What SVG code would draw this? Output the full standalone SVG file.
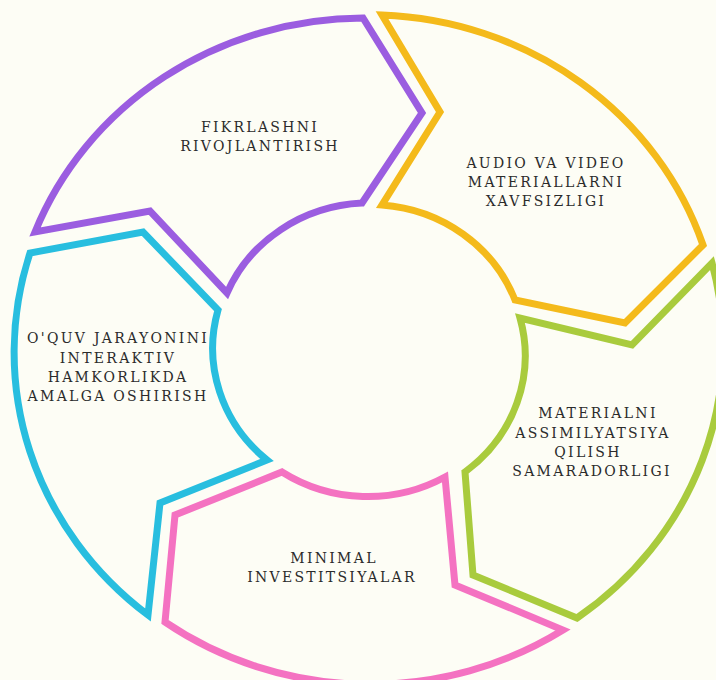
<svg xmlns="http://www.w3.org/2000/svg" width="716" height="680" viewBox="0 0 716 680">
  <style>
    .seg { fill: #fdfdf5; stroke-width: 7; stroke-linejoin: miter; stroke-miterlimit: 10; }
    .lbl { font-family: "DejaVu Serif", "Liberation Serif", serif; font-size: 14px; letter-spacing: 2.3px; fill: #2b2b2b; text-anchor: middle; }
  </style>
  <rect width="716" height="680" fill="#fdfdf5"/>
  <g id="connectors"/>
  <g id="node-fikrlash">
    <path class="seg" stroke="#9b5de0" d="M35,232 A353,335 0 0 1 363,18 L422,113 L362,203 A155,147 0 0 0 227,293 L150,211 Z"/>
    <text class="lbl" x="260" y="132">FIKRLASHNI</text>
    <text class="lbl" x="260" y="151">RIVOJLANTIRISH</text>
  </g>
  <g id="node-audio">
    <path class="seg" stroke="#f4ba1b" d="M382,15 A353,335 0 0 1 703,245 L625,323 L515,300 A155,147 0 0 0 382,205 L440,112 Z"/>
    <text class="lbl" x="546" y="168">AUDIO VA VIDEO</text>
    <text class="lbl" x="546" y="187">MATERIALLARNI</text>
    <text class="lbl" x="546" y="206">XAVFSIZLIGI</text>
  </g>
  <g id="node-material">
    <path class="seg" stroke="#a9cb3d" d="M712,263 A353,335 0 0 1 577,618 L473,575 L465,472 A155,147 0 0 0 520,318 L632,345 Z"/>
    <text class="lbl" x="598" y="418">MATERIALNI</text>
    <text class="lbl" x="593" y="438">ASSIMILYATSIYA</text>
    <text class="lbl" x="588" y="457">QILISH</text>
    <text class="lbl" x="592" y="476">SAMARADORLIGI</text>
  </g>
  <g id="node-minimal">
    <path class="seg" stroke="#f472c1" d="M563,630 A353,335 0 0 1 165,622 L175,515 L282,472 A155,147 0 0 0 445,477 L455,585 Z"/>
    <text class="lbl" x="334" y="563">MINIMAL</text>
    <text class="lbl" x="332" y="582">INVESTITSIYALAR</text>
  </g>
  <g id="node-oquv">
    <path class="seg" stroke="#28bedf" d="M148,615 A353,335 0 0 1 30,253 L143,232 L218,310 A155,147 0 0 0 267,460 L160,503 Z"/>
    <text class="lbl" x="118" y="343">O'QUV JARAYONINI</text>
    <text class="lbl" x="118" y="363">INTERAKTIV</text>
    <text class="lbl" x="118" y="382">HAMKORLIKDA</text>
    <text class="lbl" x="118" y="401">AMALGA OSHIRISH</text>
  </g>
</svg>
